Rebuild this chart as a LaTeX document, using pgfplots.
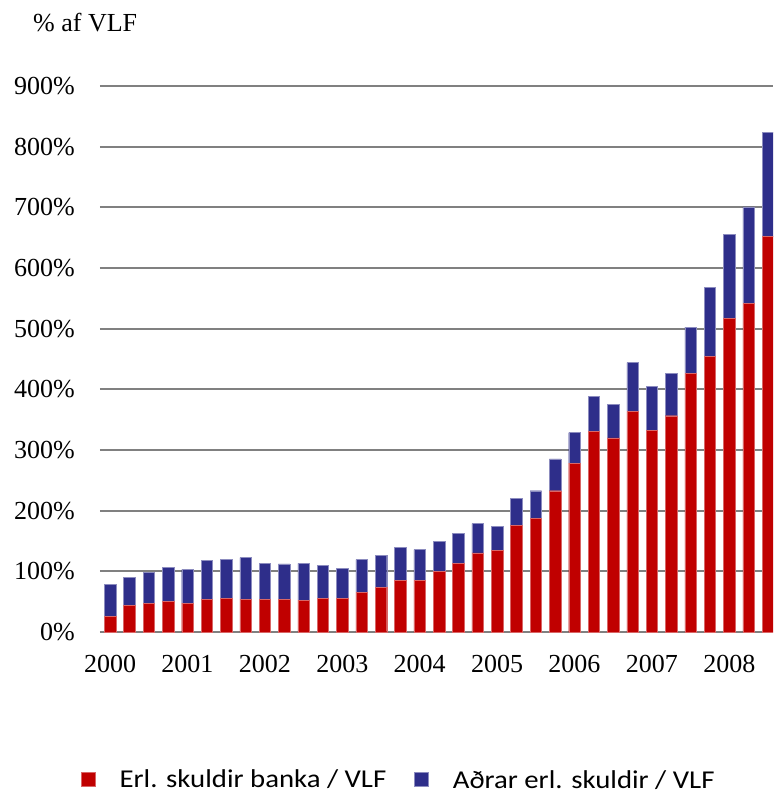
\documentclass[border=0pt]{standalone}
\usepackage{fontspec}
\setmainfont{Liberation Serif}
\newfontfamily\legfont[FakeStretch=1.12]{Carlito}
\usepackage{pgfplots}
\pgfplotsset{compat=1.18}
\usetikzlibrary{calc}

\definecolor{bankred}{RGB}{192,0,0}
\definecolor{otherblue}{RGB}{46,46,138}
\definecolor{gridgray}{RGB}{128,128,128}

% quarterly, 2000Q1 = 0 ... 2008Q3 = 34
\pgfplotstableread{
x banka adrar
0  25.8  53.3
1  44.0  46.0
2  47.8  51.1
3  50.5  56.1
4  47.8  54.9
5  54.4  63.2
6  55.5  64.8
7  54.4  68.1
8  53.8  59.9
9  53.8  58.3
10 52.7  60.5
11 55.5  54.4
12 55.5  50.0
13 65.9  53.3
14 73.6  52.8
15 85.2  53.8
16 85.2  50.5
17 100.0 50.0
18 113.5 48.9
19 130.6 48.2
20 134.1 40.6
21 175.9 44.1
22 187.6 45.3
23 232.9 52.4
24 278.2 50.6
25 330.6 58.2
26 320.0 54.7
27 363.5 80.6
28 332.4 72.3
29 356.5 70.0
30 426.5 75.9
31 454.7 112.9
32 516.5 139.4
33 541.8 158.8
34 652.4 171.1
}\skuldir

\begin{document}
\begin{tikzpicture}
\begin{axis}[
  name=ax,
  scale only axis,
  width=673pt, height=546pt,
  xmin=-0.52, xmax=34.26,
  ymin=0, ymax=900,
  ybar stacked,
  bar width=11.5pt,
  axis line style={draw=none},
  major tick length=0pt,
  ymajorgrids,
  grid style={gridgray, line width=2pt},
  ytick={0,100,...,900},
  yticklabels={0\%,100\%,200\%,300\%,400\%,500\%,600\%,700\%,800\%,900\%},
  xtick={0,4,...,32},
  xticklabels={2000,2001,2002,2003,2004,2005,2006,2007,2008},
  ticklabel style={font=\fontsize{26}{30}\selectfont, inner sep=0pt},
  xticklabel style={anchor=north, yshift=-23pt},
  yticklabel style={anchor=east, xshift=-25pt},
  clip=true,
  legend columns=2,
  legend style={draw=none, fill=none, inner sep=0pt,
    at={(-0.0282,-0.2509)}, anchor=north west,
    nodes={inner sep=0pt, font=\legfont\fontsize{25.7}{30}\selectfont},
    /tikz/every odd column/.append style={column sep=24pt},
    /tikz/every even column/.append style={column sep=28pt}},
  legend image code/.code={\fill[#1] (0pt,-7pt) rectangle (14pt,7pt);},
]
\addplot[fill=bankred, draw=bankred!60!white, line width=0.4pt] table[x=x, y=banka] {\skuldir};
\addlegendentry{Erl. skuldir banka / VLF}
\addplot[fill=otherblue, draw=otherblue!55!white, line width=0.4pt] table[x=x, y=adrar] {\skuldir};
\addlegendentry{\raisebox{-3pt}{Aðrar erl. skuldir / VLF}}
\end{axis}
\node[anchor=base west, inner sep=0pt, font=\fontsize{26}{30}\selectfont]
  at ($(ax.south west)+(-67pt,600.3pt)$) {\% af VLF};
\path ($(ax.south west)+(-100pt,-164pt)$) rectangle ($(ax.south west)+(673pt,632pt)$);
\end{tikzpicture}
\end{document}
